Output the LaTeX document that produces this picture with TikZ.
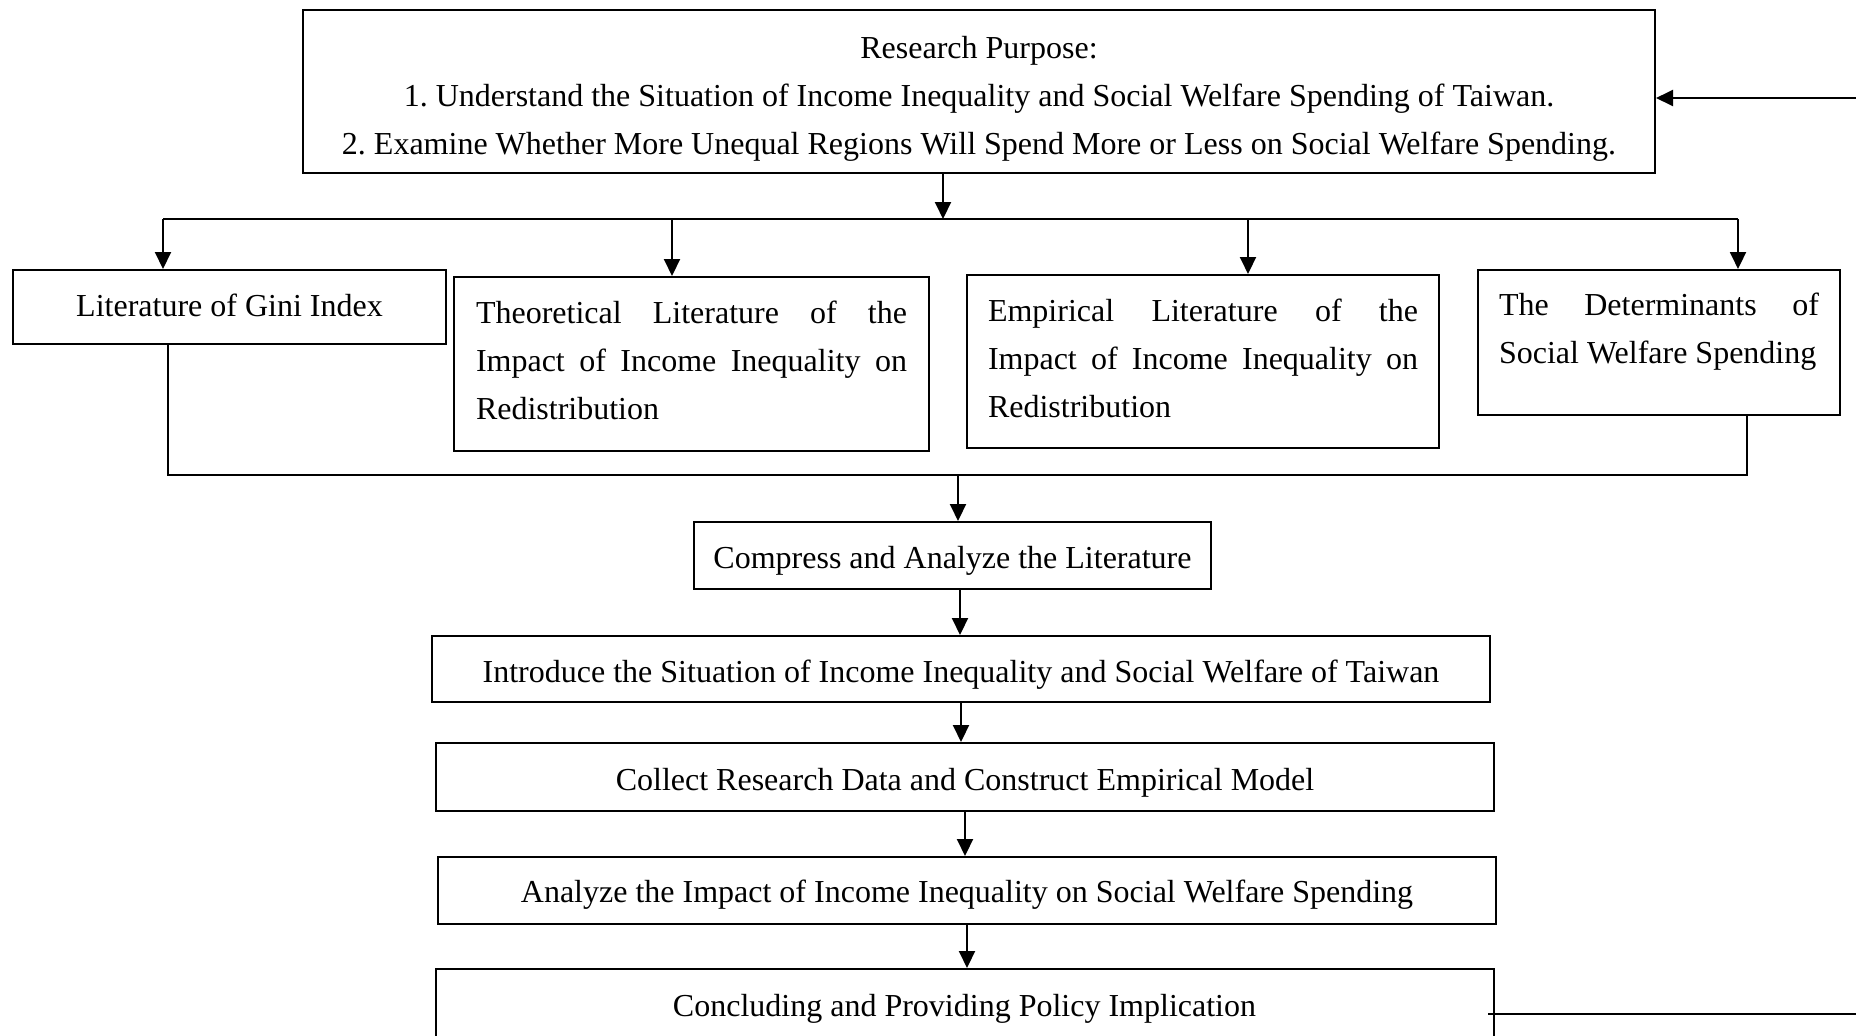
\documentclass[tikz,border=0pt]{standalone}
\usepackage{fontspec}
\setmainfont{Liberation Serif}
\usetikzlibrary{arrows.meta}
\frenchspacing
\begin{document}
\begin{tikzpicture}[x=0.5pt,y=-0.5pt, line width=1pt,
  font=\fontsize{16pt}{24pt}\selectfont,
  arr/.style={-{Triangle[length=8.5pt,width=8pt]}},
  mbox/.style={draw, inner ysep=0pt, anchor=north west},
  sbox/.style={draw, inner sep=0pt, text height=#1, text depth=0pt}]
\useasboundingbox (0,0) rectangle (1856,1035);
\clip (0,0) rectangle (1856,1035);

% boxes
\node[mbox, inner xsep=0pt] (purpose) at (302,9) {\parbox[c][81.5pt][t]{676pt}{\centering\rule{0pt}{24pt}Research Purpose:\\1. Understand the Situation of Income Inequality and Social Welfare Spending of Taiwan.\\2. Examine Whether More Unequal Regions Will Spend More or Less on Social Welfare Spending.}};

\node[sbox=9pt, minimum width=216.5pt, minimum height=37pt] (gini) at (229.5,307) {Literature of Gini Index};

\node[mbox, inner xsep=11pt] (theo) at (453,276) {\parbox[c][87pt][t]{215.5pt}{\rule{0pt}{23pt}Theoretical\hfill Literature\hfill of\hfill the\\Impact\hfill of\hfill Income\hfill Inequality\hfill on\\Redistribution}};

\node[mbox, inner xsep=10.5pt] (emp) at (966,274) {\parbox[c][86.5pt][t]{215pt}{\rule{0pt}{23pt}Empirical\hfill Literature\hfill of\hfill the\\Impact\hfill of\hfill Income\hfill Inequality\hfill on\\Redistribution}};

\node[mbox, inner xsep=10.5pt] (det) at (1477,269) {\parbox[c][72.5pt][t]{160pt}{\rule{0pt}{22.5pt}The\hfill Determinants\hfill of\\Social Welfare Spending}};

\node[sbox=12.5pt, minimum width=258.5pt, minimum height=33.5pt] (comp) at (952.5,555.5) {Compress and Analyze the Literature};
\node[sbox=13pt, minimum width=529pt, minimum height=33pt] (intro) at (961,669) {Introduce the Situation of Income Inequality and Social Welfare of Taiwan};
\node[sbox=13pt, minimum width=529pt, minimum height=34pt] (coll) at (965,777) {Collect Research Data and Construct Empirical Model};
\node[sbox=11.5pt, minimum width=529pt, minimum height=33.5pt] (anal) at (967,890.5) {Analyze the Impact of Income Inequality on Social Welfare Spending};
\node[sbox=11.5pt, minimum width=529pt, minimum height=35.5pt] (concl) at (964.5,1004.5) {Concluding and Providing Policy Implication};

% top distribution bus
\coordinate (busT) at (943,219);
\coordinate (tL) at (163,219);
\coordinate (t2) at (672,219);
\coordinate (t3) at (1248,219);
\coordinate (tR) at (1738,219);
\draw[arr] (busT |- purpose.south) -- (busT);
\draw (tL) -- (tR);
\draw[arr] (tL) -- (tL |- gini.north);
\draw[arr] (t2) -- (t2 |- theo.north);
\draw[arr] (t3) -- (t3 |- emp.north);
\draw[arr] (tR) -- (tR |- det.north);

% bottom collecting bus
\coordinate (bL) at (168,475);
\coordinate (bR) at (1747,475);
\coordinate (busB) at (958,475);
\draw (bL |- gini.south) -- (bL) -- (bR) -- (bR |- det.south);
\draw[arr] (busB) -- (busB |- comp.north);

% chain
\coordinate (c1) at ([xshift=3.75pt]comp.south);
\draw[arr] (c1) -- (c1 |- intro.north);
\draw[arr] (intro.south) -- (intro.south |- coll.north);
\draw[arr] (coll.south) -- (coll.south |- anal.north);
\draw[arr] (anal.south) -- (anal.south |- concl.north);

% feedback
\coordinate (fbL) at (1488,1014);
\coordinate (fbR) at (1856,1014);
\draw (fbL) -- (fbR);
\coordinate (fbT) at (1856,98);
\draw[arr] (fbT) -- (fbT -| purpose.east);
\end{tikzpicture}
\end{document}
